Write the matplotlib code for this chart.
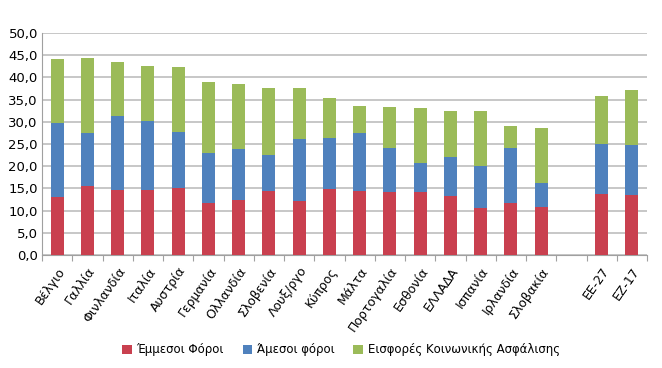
import numpy as np
import matplotlib.pyplot as plt

# Δεδομένα (% ΑΕΠ)
countries = ['Βέλγιο', 'Γαλλία', 'Φινλανδία', 'Ιταλία', 'Αυστρία', 'Γερμανία',
             'Ολλανδία', 'Σλοβενία', 'Λουξ/ργο', 'Κύπρος', 'Μάλτα', 'Πορτογαλία',
             'Εσθονία', 'ΕΛΛΑΔΑ', 'Ισπανία', 'Ιρλανδία', 'Σλοβακία', '', 'ΕΕ-27', 'ΕΖ-17']
indirect = [13.1, 15.6, 14.7, 14.6, 15.1, 11.7, 12.3, 14.4, 12.2, 14.8,
            14.4, 14.1, 14.3, 13.2, 10.5, 11.6, 10.8, np.nan, 13.8, 13.5]
direct = [16.7, 11.9, 16.7, 15.6, 12.7, 11.2, 11.5, 8.2, 14.0, 11.6,
          13.0, 9.9, 6.4, 8.8, 9.6, 12.4, 5.4, np.nan, 11.1, 11.2]
social = [14.4, 16.9, 12.1, 12.4, 14.6, 16.1, 14.8, 15.1, 11.5, 9.0,
          6.2, 9.4, 12.5, 10.5, 12.4, 5.1, 12.5, np.nan, 11.0, 12.5]
legend_labels = ['Έμμεσοι Φόροι', 'Άμεσοι φόροι', 'Εισφορές Κοινωνικής Ασφάλισης']
colors = ['#C9404F', '#4F81BD', '#9BBB59']

plt.rcParams['font.family'] = ['DejaVu Sans']

fig = plt.figure(figsize=(6.62, 3.68), dpi=100)
ax = fig.add_axes([42 / 662, 1 - 255 / 368, 605 / 662, 222 / 368])

x = np.arange(len(countries))
ind = np.array(indirect)
dirc = np.array(direct)
soc = np.array(social)
w = 0.43
ax.bar(x, ind, w, color=colors[0], label=legend_labels[0], zorder=3)
ax.bar(x, dirc, w, bottom=ind, color=colors[1], label=legend_labels[1], zorder=3)
ax.bar(x, soc, w, bottom=ind + dirc, color=colors[2], label=legend_labels[2], zorder=3)

ax.set_xlim(-0.5, len(countries) - 0.5)
ax.set_ylim(0, 50)
ax.set_yticks(np.arange(0, 50.1, 5))
ax.set_yticklabels([f'{v:.1f}'.replace('.', ',') for v in np.arange(0, 50.1, 5)], fontsize=9.5)
ax.yaxis.grid(True, color='#BDBDBD', linewidth=1.2, zorder=0)
ax.tick_params(axis='y', length=0, pad=3)

# ticks on category boundaries
ax.set_xticks(np.arange(-0.5, len(countries), 1), minor=False)
ax.set_xticklabels([])
ax.tick_params(axis='x', which='major', length=4, color='#A0A0A0')
ax.set_xticks(x, minor=True)
ax.set_xticklabels(countries, minor=True, rotation=55, ha='right', va='top',
                   rotation_mode='anchor', fontsize=9)
ax.tick_params(axis='x', which='minor', length=0, pad=7)

for s in ['top', 'right']:
    ax.spines[s].set_visible(False)
for s in ['left', 'bottom']:
    ax.spines[s].set_color('#A0A0A0')

fig.legend(loc='center', bbox_to_anchor=(0.515, 1 - 350 / 368), ncol=3, frameon=False,
           fontsize=8.5, handlelength=0.8, handleheight=0.8, handletextpad=0.4,
           columnspacing=1.6)

plt.savefig('out.png', dpi=100)
